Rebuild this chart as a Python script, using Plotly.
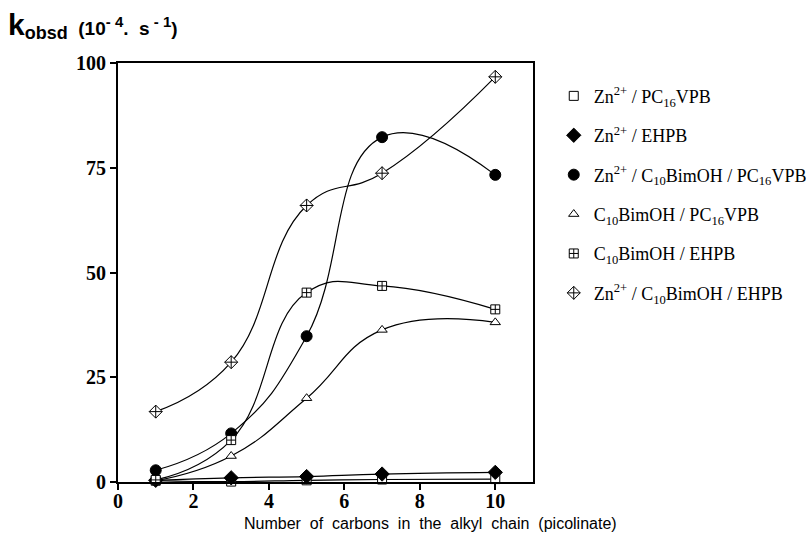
import plotly.graph_objects as go

x_carbons = [1, 3, 5, 7, 10]

names = [
    "Zn<sup>2+</sup> / PC<sub>16</sub>VPB",
    "Zn<sup>2+</sup> / EHPB",
    "Zn<sup>2+</sup> / C<sub>10</sub>BimOH / PC<sub>16</sub>VPB",
    "C<sub>10</sub>BimOH / PC<sub>16</sub>VPB",
    "C<sub>10</sub>BimOH / EHPB",
    "Zn<sup>2+</sup> / C<sub>10</sub>BimOH / EHPB",
]

zn_pc16vpb = [0.3, 0.1, 0.4, 0.6, 0.7]
zn_ehpb = [0.4, 1.0, 1.3, 1.9, 2.3]
zn_c10_pc16vpb = [2.8, 11.6, 34.8, 82.3, 73.3]
c10_pc16vpb = [0.3, 6.2, 20.0, 36.3, 38.1]
c10_ehpb = [0.5, 10.0, 45.2, 46.8, 41.2]
zn_c10_ehpb = [16.8, 28.6, 66.0, 73.7, 96.7]

series = [zn_pc16vpb, zn_ehpb, zn_c10_pc16vpb, c10_pc16vpb, c10_ehpb, zn_c10_ehpb]
symbols = ["square", "diamond", "circle", "triangle-up", "square-cross", "diamond-cross"]
fills = ["white", "black", "black", "white", "white", "white"]
sizes = [9, 11, 11, 9, 9, 10]

fig = go.Figure()

for ys in series:
    fig.add_trace(go.Scatter(
        x=x_carbons, y=ys, mode="lines",
        line=dict(color="black", width=1.2, shape="spline", smoothing=1.3),
        showlegend=False, hoverinfo="skip", cliponaxis=False,
    ))

for i, ys in enumerate(series):
    fig.add_trace(go.Scatter(
        x=x_carbons, y=ys, mode="markers", name=names[i],
        legendgroup=f"g{i}",
        marker=dict(symbol=symbols[i], size=sizes[i], color=fills[i],
                    line=dict(color="black", width=1)),
        cliponaxis=False,
    ))

axis_font = dict(family="Liberation Serif", size=20, color="black", weight="bold")

fig.update_layout(
    width=806, height=543,
    margin=dict(l=118, r=273, t=63, b=61, autoexpand=False),
    plot_bgcolor="white", paper_bgcolor="white",
    xaxis=dict(range=[0, 11], tickvals=[0, 2, 4, 6, 8, 10], showgrid=False, zeroline=False,
               showline=True, linecolor="black", linewidth=2, mirror=True,
               ticks="outside", ticklen=6, tickwidth=2, tickcolor="black",
               tickfont=axis_font, ticklabelstandoff=-6),
    yaxis=dict(range=[0, 100], tickvals=[0, 25, 50, 75, 100], showgrid=False, zeroline=False,
               showline=True, linecolor="black", linewidth=2, mirror=True,
               ticks="outside", ticklen=6, tickwidth=2, tickcolor="black",
               tickfont=axis_font),
    legend=dict(x=1.05, y=0.965, xanchor="left", yanchor="top",
                font=dict(family="Liberation Serif", size=18, color="black"),
                traceorder="grouped", tracegroupgap=13, itemwidth=30,
                bgcolor="rgba(0,0,0,0)"),
    showlegend=True,
)

fig.add_annotation(
    text=("<b><span style='font-size:30px'>k</span><sub><span style='font-size:18px'>obsd</span></sub>"
          "  (10<sup><span style='font-size:15px'>- 4</span></sup>.  s<sup><span style='font-size:15px'> - 1</span></sup>)</b>"),
    xref="paper", yref="paper", x=-0.27, y=1.0, yshift=57, xanchor="left", yanchor="top",
    showarrow=False, font=dict(family="Liberation Sans", size=19, color="black"),
)

fig.add_annotation(
    text="Number  of  carbons  in  the  alkyl  chain  (picolinate)",
    xref="paper", yref="paper", x=0.754, y=0, yshift=-31, xanchor="center", yanchor="top",
    showarrow=False, font=dict(family="Liberation Sans", size=16, color="black"),
)

fig.write_html("out.html")
